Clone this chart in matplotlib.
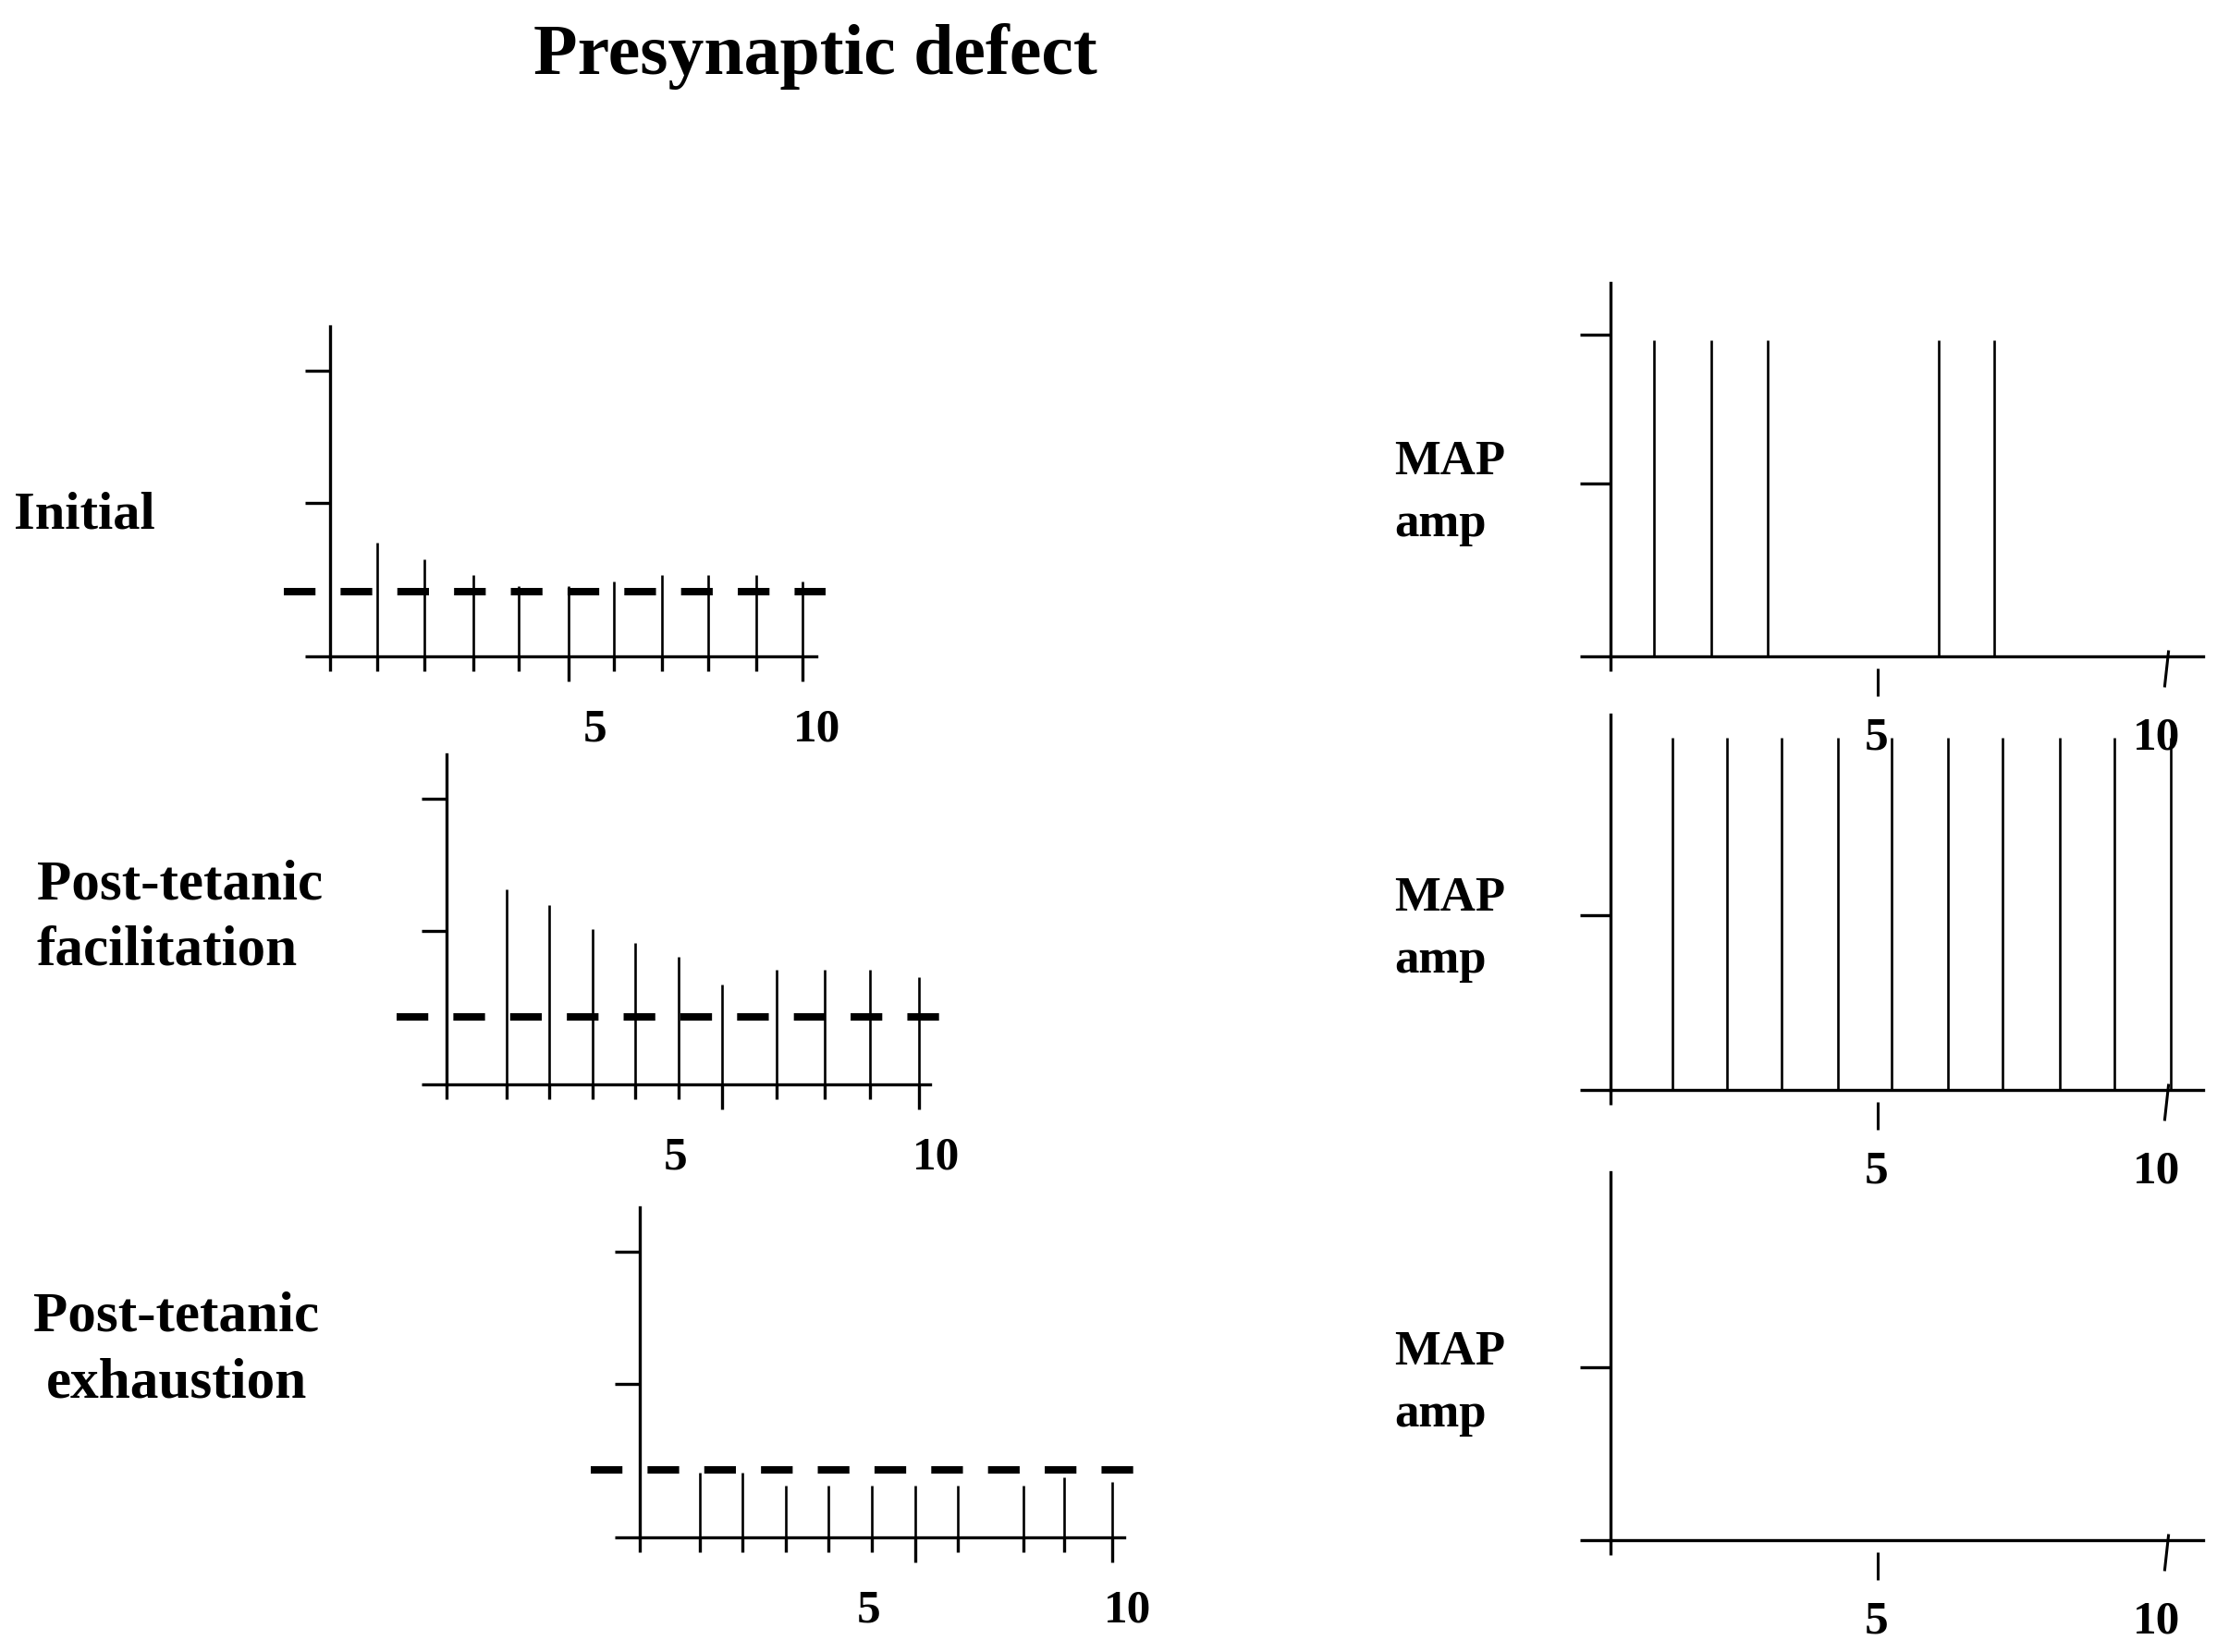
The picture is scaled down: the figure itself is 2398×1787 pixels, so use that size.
import matplotlib
matplotlib.use("Agg")
import matplotlib.pyplot as plt
from matplotlib.path import Path

# --- data (amplitudes in units of the first y tick) ---
stim_initial = [1.0, 2.0, 3.04, 4.0, 5.04, 6.0, 7.03, 8.0, 9.02, 10.0]
amp_initial = [0.74, 0.63, 0.53, 0.46, 0.46, 0.49, 0.53, 0.53, 0.53, 0.49]

stim_facil = [1.27, 2.18, 3.09, 4.0, 4.92, 5.83, 6.98, 8.01, 8.97, 10.0]
amp_facil = [1.27, 1.17, 1.01, 0.92, 0.83, 0.65, 0.75, 0.75, 0.75, 0.70]

stim_exhaust = [1.27, 2.18, 3.09, 4.0, 4.92, 5.83, 6.74, 8.13, 8.99, 10.0]
amp_exhaust = [0.42, 0.42, 0.34, 0.34, 0.34, 0.34, 0.34, 0.34, 0.39, 0.36]

threshold = [0.42, 0.44, 0.44]

stim_map1 = [0.78, 1.81, 2.83, 5.9, 6.91]
amp_map1 = [1.83, 1.83, 1.83, 1.83, 1.83]

stim_map2 = [1.12, 2.1, 3.08, 4.09, 5.06, 6.08, 7.06, 8.09, 9.06, 10.08]
amp_map2 = [2.04, 2.04, 2.04, 2.04, 2.04, 2.04, 2.04, 2.04, 2.04, 2.04]

stim_map3 = []
amp_map3 = []

tick_labels = ["5", "10"]

W, H = 2398, 1787
plt.rcParams["font.family"] = ["Liberation Serif", "DejaVu Serif"]
fig = plt.figure(figsize=(W / 100, H / 100), dpi=100)


def add_ax(x0, base, ux, uy, xlim, ylim):
    left = x0 + xlim[0] * ux
    right = x0 + xlim[1] * ux
    top = base - ylim[1] * uy
    bottom = base - ylim[0] * uy
    ax = fig.add_axes([left / W, 1 - bottom / H, (right - left) / W, (bottom - top) / H])
    ax.set_xlim(*xlim)
    ax.set_ylim(*ylim)
    ax.patch.set_visible(False)
    for s in ["top", "right"]:
        ax.spines[s].set_visible(False)
    for s in ["left", "bottom"]:
        ax.spines[s].set_position(("data", 0))
        ax.spines[s].set_linewidth(2.4)
    return ax


def left_panel(x0, base, stim, amp, long_idx, level, dash_span, x_end, lab_x):
    ax = add_ax(x0, base, 51.1, 166, (-1.6, 11.0), (-0.75, 2.3))
    ax.spines["left"].set_bounds(0, 2.15)
    ax.spines["bottom"].set_bounds(0, x_end)
    ax.vlines(stim, 0, amp, color="black", lw=1.9)
    ax.hlines(level, dash_span[0], dash_span[1], color="black", lw=5.8,
              linestyles=[(0, (4.25, 3.37))])
    ax.set_yticks([0, 1.0, 1.86])
    ax.set_yticklabels([])
    major = [stim[i] for i in long_idx]
    minor = [0] + [s for i, s in enumerate(stim) if i not in long_idx]
    ax.set_xticks(major)
    ax.set_xticks(minor, minor=True)
    ax.tick_params(axis="y", direction="out", length=19.4, width=2.4)
    ax.tick_params(axis="x", which="major", direction="out", length=19.4, width=2.4,
                   labelbottom=False)
    ax.tick_params(axis="x", which="minor", direction="out", length=11.5, width=2.4)
    for x, s in zip(lab_x, tick_labels):
        ax.text(x, -0.55, s, ha="center", va="baseline", fontsize=37, fontweight="bold")
    return ax


def right_panel(x0, base, stim, amp, yticks, top, lab_x):
    ax = add_ax(x0, base, 60.1, 187, (-1.2, 11.2), (-0.75, 2.3))
    ax.spines["left"].set_bounds(0, top)
    ax.spines["bottom"].set_bounds(0, 10.67)
    if len(stim):
        ax.vlines(stim, 0, amp, color="black", lw=1.9)
    ax.set_yticks(yticks)
    ax.set_yticklabels([])
    ax.tick_params(axis="y", direction="out", length=23.8, width=2.4)
    ax.set_xticks([4.81, 10.0])
    ax.set_xticks([0], minor=True)
    ax.tick_params(axis="x", which="major", width=2.2, labelbottom=False)
    ax.tick_params(axis="x", which="minor", direction="out", length=11.5, width=2.4)
    # hand-drawn look: detached tick at 5, slanted tick at 10
    t5, t10 = ax.xaxis.get_major_ticks()
    t5.tick1line.set_marker(Path([(0, -13), (0, -43)]))
    t5.tick1line.set_markersize(86 * 0.72)
    t10.tick1line.set_marker(Path([(2.2, 7), (-2.2, -33)]))
    t10.tick1line.set_markersize(66 * 0.72)
    for x, s in zip(lab_x, tick_labels):
        ax.text(x, -0.54, s, ha="center", va="baseline", fontsize=37, fontweight="bold")
    return ax


left_panel(357, 710, stim_initial, amp_initial, [4, 9], threshold[0],
           (-0.98, 10.49), 10.29, [5.6, 10.3])
left_panel(483, 1173, stim_facil, amp_facil, [5, 9], threshold[1],
           (-1.06, 10.43), 10.24, [4.85, 10.37])
left_panel(692, 1663, stim_exhaust, amp_exhaust, [5, 9], threshold[2],
           (-1.04, 10.47), 10.25, [4.84, 10.33])

right_panel(1742, 710, stim_map1, amp_map1, [0, 1.0, 1.86], 2.16, [4.79, 9.82])
right_panel(1742, 1179, stim_map2, amp_map2, [0, 1.01], 2.17, [4.79, 9.82])
right_panel(1742, 1666, stim_map3, amp_map3, [0, 1.0], 2.13, [4.79, 9.82])


def ftext(x, y, s, **kw):
    fig.text(x / W, 1 - y / H, s, fontweight="bold", va="baseline", **kw)


ftext(882, 80, "Presynaptic defect", fontsize=56, ha="center")
ftext(15, 572, "Initial", fontsize=42, ha="left")
ftext(40, 972, "Post-tetanic", fontsize=44, ha="left")
ftext(40, 1043, "facilitation", fontsize=44, ha="left")
ftext(191, 1440, "Post-tetanic", fontsize=44, ha="center")
ftext(191, 1511, "exhaustion", fontsize=44, ha="center")
for base in [513, 985, 1476]:
    ftext(1508, base, "MAP", fontsize=38, ha="left")
    ftext(1508, base + 67, "amp", fontsize=38, ha="left")

fig.savefig("out.png", dpi=100)
